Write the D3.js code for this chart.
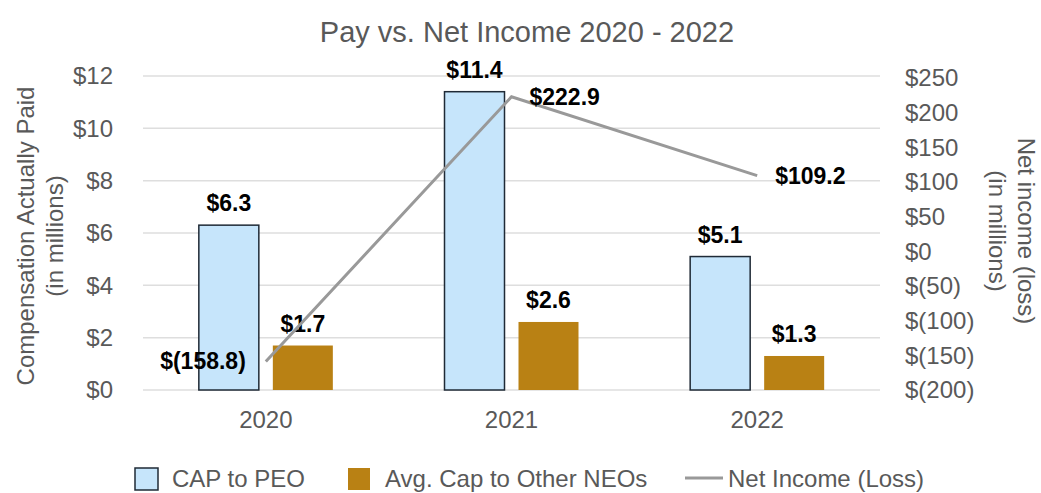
<!DOCTYPE html>
<html>
<head>
<meta charset="utf-8">
<script src="https://cdn.jsdelivr.net/npm/d3@7"></script>
<style>
  body { margin: 0; background: #fff; }
  text { font-family: "Liberation Sans", Arial, sans-serif; }
</style>
</head>
<body>
<div id="chart"></div>
<script>
const years = ['2020', '2021', '2022'];
const capPeo = [6.3, 11.4, 5.1];
const capNeo = [1.7, 2.6, 1.3];
const netIncome = [-158.8, 222.9, 109.2];
const leftTicks = [0, 2, 4, 6, 8, 10, 12];
const rightTicks = [-200, -150, -100, -50, 0, 50, 100, 150, 200, 250];

const W = 1041, H = 493;
const plot = { left: 143, right: 880, top: 76, bottom: 390 };
const grey = '#595959';
const font = '"Liberation Sans", Arial, sans-serif';

const svg = d3.select('#chart').append('svg').attr('width', W).attr('height', H);

const x = d3.scaleBand().domain(years).range([plot.left, plot.right]);
const yL = d3.scaleLinear().domain([0, 12]).range([plot.bottom, plot.top]);
const yR = d3.scaleLinear().domain([-200, 250]).range([plot.bottom, 78]);

const barW = 60, gap = 14;

// title
svg.append('text').attr('x', 527).attr('y', 42).attr('text-anchor', 'middle')
  .attr('font-size', 29).attr('fill', grey).text('Pay vs. Net Income 2020 - 2022');

// gridlines
svg.append('g').selectAll('line').data(leftTicks).join('line')
  .attr('x1', plot.left).attr('x2', plot.right)
  .attr('y1', (d) => yL(d)).attr('y2', (d) => yL(d))
  .attr('stroke', '#dedede').attr('stroke-width', 1.5);

// left axis
const money = (d) => (d < 0 ? '$(' + Math.abs(d) + ')' : '$' + d);
const axL = svg.append('g').attr('transform', `translate(${plot.left},0)`)
  .call(d3.axisLeft(yL).tickValues(leftTicks).tickFormat(money).tickSize(0).tickPadding(30));
axL.select('.domain').remove();
axL.selectAll('text').attr('font-size', 24).attr('fill', grey).attr('font-family', font);

// right axis
const axR = svg.append('g').attr('transform', `translate(${plot.right},0)`)
  .call(d3.axisRight(yR).tickValues(rightTicks).tickFormat(money).tickSize(0).tickPadding(25));
axR.select('.domain').remove();
axR.selectAll('text').attr('font-size', 24).attr('fill', grey).attr('font-family', font);

// x axis
const axX = svg.append('g').attr('transform', `translate(0,${plot.bottom})`)
  .call(d3.axisBottom(x).tickSize(0).tickPadding(21));
axX.select('.domain').remove();
axX.selectAll('text').attr('font-size', 24).attr('fill', grey).attr('font-family', font);

// axis titles
const leftTitle = svg.append('text').attr('transform', 'translate(34,236) rotate(-90)')
  .attr('text-anchor', 'middle').attr('font-size', 24).attr('fill', grey);
leftTitle.append('tspan').attr('x', 0).attr('dy', 0).text('Compensation Actually Paid');
leftTitle.append('tspan').attr('x', 0).attr('dy', 29).text('(in millions)');

const rightTitle = svg.append('text').attr('transform', 'translate(1018,231) rotate(90)')
  .attr('text-anchor', 'middle').attr('font-size', 24).attr('fill', grey);
rightTitle.append('tspan').attr('x', 0).attr('dy', 0).text('Net income (loss)');
rightTitle.append('tspan').attr('x', 0).attr('dy', 29).text('(in millions)');

// bars
const cx = (y) => x(y) + x.bandwidth() / 2;
svg.append('g').selectAll('rect').data(years).join('rect')
  .attr('x', (d) => cx(d) - gap / 2 - barW)
  .attr('y', (d, i) => yL(capPeo[i]))
  .attr('width', barW)
  .attr('height', (d, i) => yL(0) - yL(capPeo[i]))
  .attr('fill', '#c6e5fb').attr('stroke', '#1f2a36').attr('stroke-width', 1.5);

svg.append('g').selectAll('rect').data(years).join('rect')
  .attr('x', (d) => cx(d) + gap / 2)
  .attr('y', (d, i) => yL(capNeo[i]))
  .attr('width', barW)
  .attr('height', (d, i) => yL(0) - yL(capNeo[i]))
  .attr('fill', '#b98114');

// bar labels
svg.append('g').selectAll('text').data(years).join('text')
  .attr('x', (d) => cx(d) - gap / 2 - barW / 2)
  .attr('y', (d, i) => yL(capPeo[i]) - 14)
  .attr('text-anchor', 'middle').attr('font-size', 23).attr('font-weight', 'bold')
  .text((d, i) => '$' + capPeo[i].toFixed(1));

svg.append('g').selectAll('text').data(years).join('text')
  .attr('x', (d) => cx(d) + gap / 2 + barW / 2)
  .attr('y', (d, i) => yL(capNeo[i]) - 14)
  .attr('text-anchor', 'middle').attr('font-size', 23).attr('font-weight', 'bold')
  .text((d, i) => '$' + capNeo[i].toFixed(1));

// net income line
const line = d3.line().x((d, i) => cx(years[i])).y((d) => yR(d));
svg.append('path').datum(netIncome).attr('d', line)
  .attr('fill', 'none').attr('stroke', '#999999').attr('stroke-width', 3);

const fmtNI = (v) => (v < 0 ? '$(' + Math.abs(v).toFixed(1) + ')' : '$' + v.toFixed(1));
svg.append('g').selectAll('text').data(netIncome).join('text')
  .attr('x', (d, i) => cx(years[i]) + (d < 0 ? -20 : 18))
  .attr('y', (d) => yR(d) + 8)
  .attr('text-anchor', (d) => (d < 0 ? 'end' : 'start'))
  .attr('font-size', 23).attr('font-weight', 'bold')
  .text(fmtNI);

// legend
const lg = svg.append('g').attr('transform', 'translate(0,478)');
lg.append('rect').attr('x', 135).attr('y', -10).attr('width', 23).attr('height', 22)
  .attr('fill', '#c6e5fb').attr('stroke', '#1f2a36').attr('stroke-width', 1.5);
lg.append('text').attr('x', 172).attr('y', 9).attr('font-size', 24).attr('fill', grey).text('CAP to PEO');
lg.append('rect').attr('x', 348).attr('y', -10).attr('width', 22).attr('height', 22).attr('fill', '#b98114');
lg.append('text').attr('x', 385).attr('y', 9).attr('font-size', 24).attr('fill', grey).text('Avg. Cap to Other NEOs');
lg.append('line').attr('x1', 685).attr('x2', 723).attr('y1', 0).attr('y2', 0)
  .attr('stroke', '#999999').attr('stroke-width', 3);
lg.append('text').attr('x', 728).attr('y', 9).attr('font-size', 24).attr('fill', grey).text('Net Income (Loss)');
</script>
</body>
</html>
